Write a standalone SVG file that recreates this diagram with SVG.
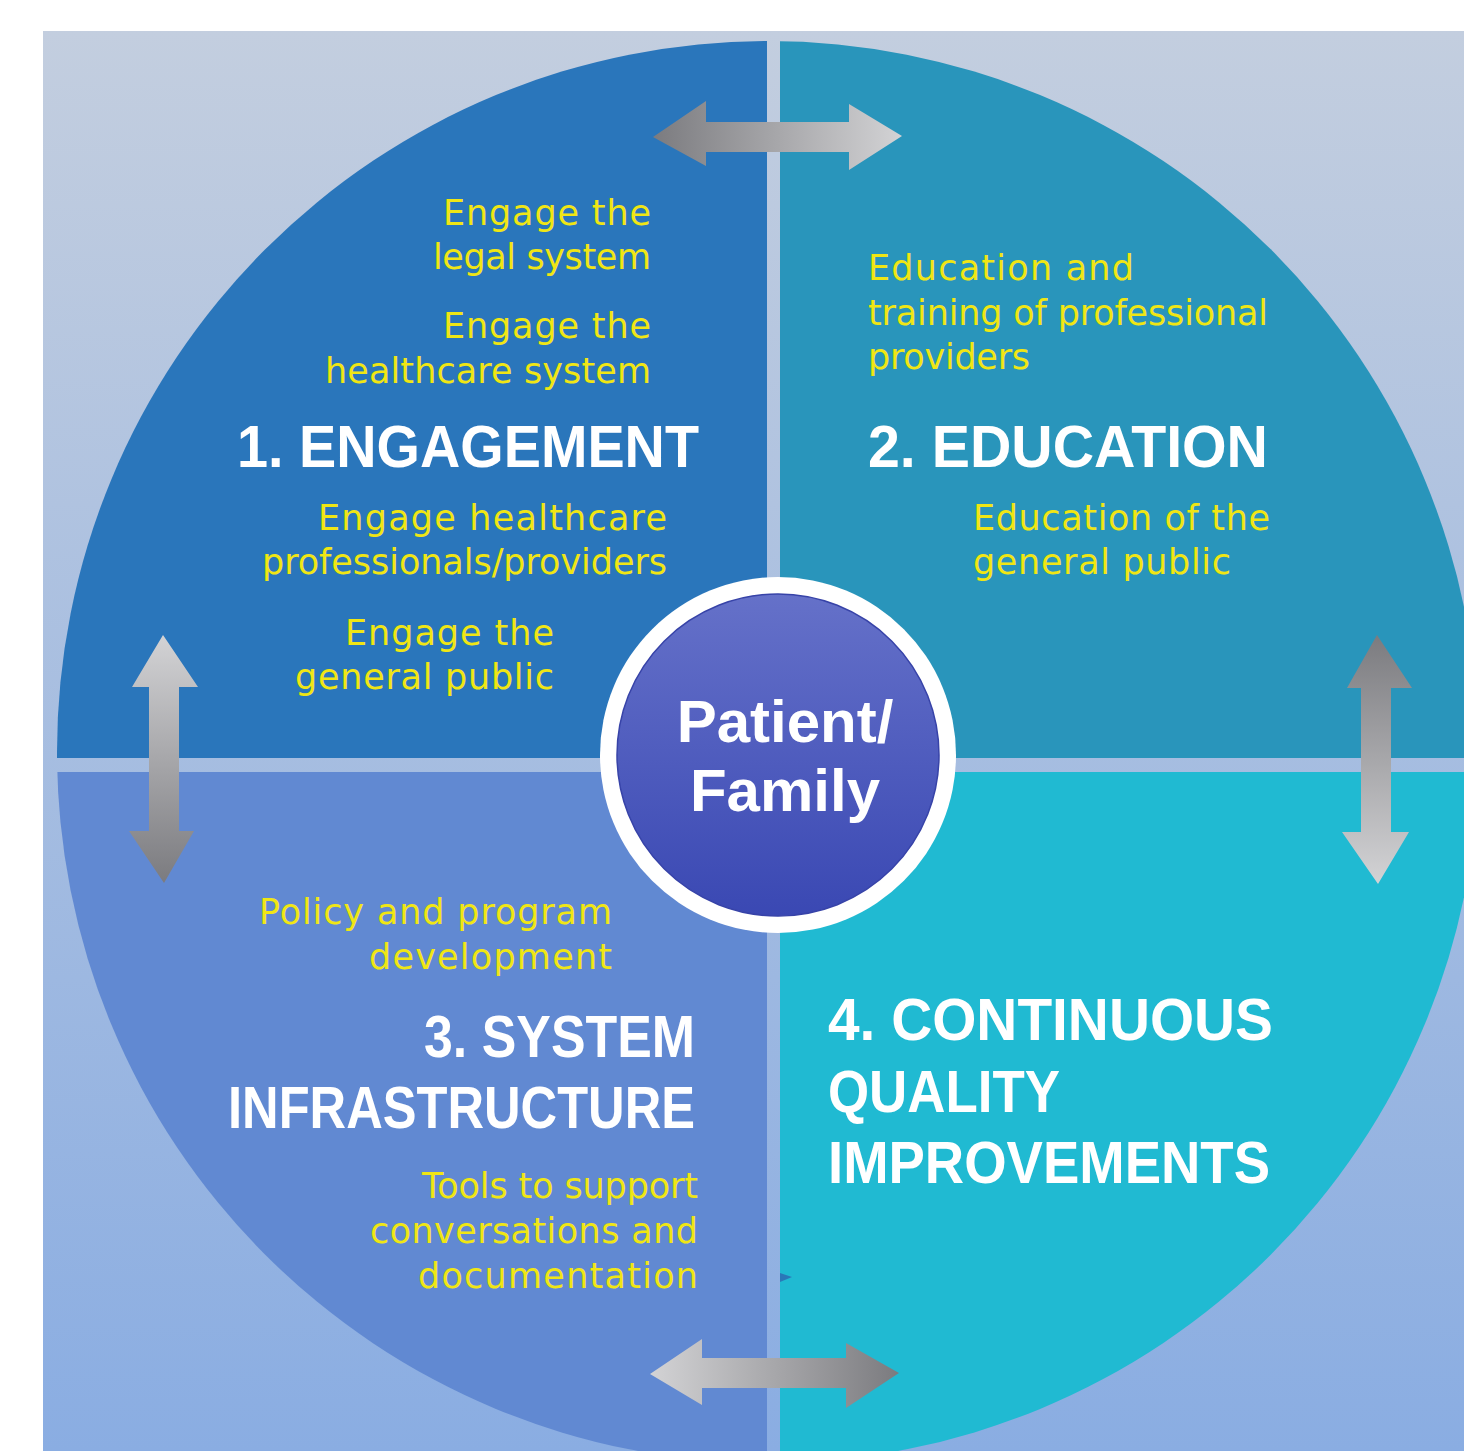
<svg xmlns="http://www.w3.org/2000/svg" width="1464" height="1451" viewBox="0 0 1464 1451">
  <defs>
    <linearGradient id="bgGrad" x1="0" y1="0" x2="0" y2="1">
      <stop offset="0" stop-color="#c3cedf"/>
      <stop offset="1" stop-color="#8aade2"/>
    </linearGradient>
    <linearGradient id="hubGrad" x1="0" y1="0" x2="0" y2="1">
      <stop offset="0" stop-color="#6571c9"/>
      <stop offset="1" stop-color="#3a48b3"/>
    </linearGradient>
    <!-- grey arrow shading: dark to light along the arrow axis -->
    <linearGradient id="arrDarkLeft" x1="0" y1="0" x2="1" y2="0">
      <stop offset="0" stop-color="#7b7b7f"/>
      <stop offset="1" stop-color="#d3d3d5"/>
    </linearGradient>
    <linearGradient id="arrDarkRight" x1="0" y1="0" x2="1" y2="0">
      <stop offset="0" stop-color="#d3d3d5"/>
      <stop offset="1" stop-color="#7b7b7f"/>
    </linearGradient>
    <linearGradient id="arrDarkTop" x1="0" y1="0" x2="0" y2="1">
      <stop offset="0" stop-color="#7b7b7f"/>
      <stop offset="1" stop-color="#d3d3d5"/>
    </linearGradient>
    <linearGradient id="arrDarkBottom" x1="0" y1="0" x2="0" y2="1">
      <stop offset="0" stop-color="#d3d3d5"/>
      <stop offset="1" stop-color="#7b7b7f"/>
    </linearGradient>
    <clipPath id="wheel">
      <circle cx="768" cy="752" r="711"/>
    </clipPath>
    <style>
      .item { font-family: "DejaVu Sans", "Liberation Sans", sans-serif; font-size: 35px; fill: #f0e614; }
      .end { text-anchor: end; }
      .title { font-family: "Liberation Sans", Arial, sans-serif; font-weight: bold; font-size: 60px; fill: #ffffff; }
      .hubText { font-family: "Liberation Sans", Arial, sans-serif; font-weight: bold; font-size: 60px; fill: #ffffff; text-anchor: middle; }
    </style>
  </defs>

  <!-- backdrop -->
  <rect x="0" y="0" width="1464" height="1451" fill="#ffffff"/>
  <rect x="43" y="31" width="1421" height="1420" fill="url(#bgGrad)"/>

  <!-- four quadrants of the wheel -->
  <g clip-path="url(#wheel)">
    <g id="engagement-quadrant">
      <rect x="0" y="0" width="767" height="758" fill="#2a76bb"/>
    </g>
    <g id="education-quadrant">
      <rect x="780" y="0" width="760" height="758" fill="#2995bb"/>
    </g>
    <g id="infrastructure-quadrant">
      <rect x="0" y="772" width="767" height="760" fill="#6189d2"/>
    </g>
    <g id="improvement-quadrant">
      <rect x="780" y="772" width="760" height="760" fill="#20bad2"/>
    </g>
  </g>
  <polygon points="780,1273 792,1277 780,1282" fill="#2a78b8"/>

  <!-- quadrant texts -->
  <g id="engagement">
    <text class="item end" x="651" y="225" textLength="208">Engage the</text>
    <text class="item end" x="651" y="269" textLength="218">legal system</text>
    <text class="item end" x="651" y="338" textLength="208">Engage the</text>
    <text class="item end" x="651" y="383" textLength="326">healthcare system</text>
    <text class="title" x="237" y="467" textLength="462" lengthAdjust="spacingAndGlyphs">1. ENGAGEMENT</text>
    <text class="item end" x="667" y="530" textLength="349">Engage healthcare</text>
    <text class="item end" x="667" y="574" textLength="405">professionals/providers</text>
    <text class="item end" x="554" y="645" textLength="209">Engage the</text>
    <text class="item end" x="554" y="689" textLength="259">general public</text>
  </g>

  <g id="education">
    <text class="item" x="868" y="280" textLength="266">Education and</text>
    <text class="item" x="868" y="325" textLength="400">training of professional</text>
    <text class="item" x="868" y="369" textLength="162">providers</text>
    <text class="title" x="868" y="467" textLength="400" lengthAdjust="spacingAndGlyphs">2. EDUCATION</text>
    <text class="item" x="973" y="530" textLength="297">Education of the</text>
    <text class="item" x="973" y="574" textLength="258">general public</text>
  </g>

  <g id="system-infrastructure">
    <text class="item end" x="612" y="924" textLength="353">Policy and program</text>
    <text class="item end" x="612" y="969" textLength="243">development</text>
    <text class="title" x="424" y="1057" textLength="271" lengthAdjust="spacingAndGlyphs">3. SYSTEM</text>
    <text class="title" x="228" y="1128" textLength="467" lengthAdjust="spacingAndGlyphs">INFRASTRUCTURE</text>
    <text class="item end" x="698" y="1198" textLength="276">Tools to support</text>
    <text class="item end" x="698" y="1243" textLength="328">conversations and</text>
    <text class="item end" x="698" y="1288" textLength="280">documentation</text>
  </g>

  <g id="quality-improvements">
    <text class="title" x="828" y="1040" textLength="445" lengthAdjust="spacingAndGlyphs">4. CONTINUOUS</text>
    <text class="title" x="828" y="1112" textLength="232" lengthAdjust="spacingAndGlyphs">QUALITY</text>
    <text class="title" x="828" y="1183" textLength="442" lengthAdjust="spacingAndGlyphs">IMPROVEMENTS</text>
  </g>

  <!-- double-headed arrows between neighbouring quadrants -->
  <g id="connectors">
    <polygon points="653,137 706,101 706,122 849,122 849,104 902,136 849,170 849,152 706,152 706,166" fill="url(#arrDarkLeft)"/>
    <polygon points="163,635 198,687 179,687 179,831 194,831 164,883 129,831 149,831 149,687 132,687" fill="url(#arrDarkBottom)"/>
    <polygon points="1377,635 1412,688 1391,688 1391,832 1409,832 1378,884 1342,832 1361,832 1361,688 1347,688" fill="url(#arrDarkTop)"/>
    <polygon points="650,1374 702,1339 702,1358 846,1358 846,1343 899,1373 846,1408 846,1388 702,1388 702,1405" fill="url(#arrDarkRight)"/>
  </g>

  <!-- central hub -->
  <g id="patient-family">
    <circle cx="778" cy="755" r="178" fill="#ffffff"/>
    <circle cx="778" cy="755" r="161" fill="url(#hubGrad)" stroke="#3743a8" stroke-width="1.5"/>
    <text class="hubText" x="785" y="742">Patient/</text>
    <text class="hubText" x="785" y="811">Family</text>
  </g>
</svg>
